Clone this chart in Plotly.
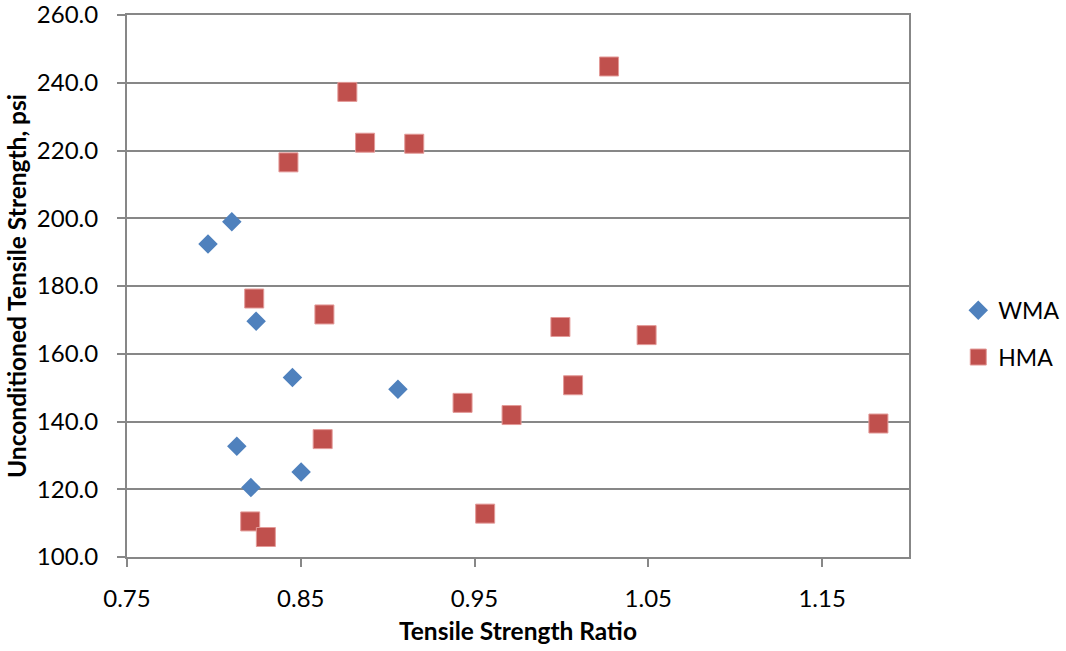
import plotly.graph_objects as go

# Tensile strength ratio (x) vs unconditioned tensile strength in psi (y)
wma_tsr = [0.7966, 0.8103, 0.8243, 0.8452, 0.8132, 0.8213, 0.8502, 0.9059]
wma_its = [192.4, 199.0, 169.6, 153.0, 132.7, 120.5, 125.1, 149.5]

hma_tsr = [0.8768, 0.8429, 0.8232, 0.8636, 0.8626, 0.8209, 0.8299, 1.0274, 0.9153,
           0.8870, 0.9994, 1.0490, 1.0067, 1.1824, 0.9431, 0.9713, 0.9561]
hma_its = [237.3, 216.5, 176.3, 171.6, 134.8, 110.5, 105.9, 244.8, 222.0,
           222.3, 167.9, 165.5, 150.7, 139.4, 145.5, 141.9, 112.8]

x_ticks = [0.75, 0.85, 0.95, 1.05, 1.15]
y_ticks = [100, 120, 140, 160, 180, 200, 220, 240, 260]

FONT = "Lato"
GRID = "#878787"

fig = go.Figure()
fig.add_trace(go.Scatter(
    x=wma_tsr, y=wma_its, mode="markers", name="WMA", legendgroup="wma",
    marker=dict(symbol="diamond", size=15, color="#4F81BD",
                line=dict(width=0)),
))
fig.add_trace(go.Scatter(
    x=hma_tsr, y=hma_its, mode="markers", name="HMA", legendgroup="hma",
    marker=dict(symbol="square", size=19, color="#C0504D",
                line=dict(width=1, color="#E39A98")),
))

fig.update_layout(
    template="none",
    width=1066, height=651,
    margin=dict(l=127, r=157, t=15, b=94, autoexpand=False),
    paper_bgcolor="white", plot_bgcolor="white",
    font=dict(family=FONT, size=24, color="black"),
    showlegend=True,
    legend=dict(x=1.063, y=0.412, xanchor="left", yanchor="middle",
                traceorder="grouped", tracegroupgap=14,
                font=dict(family=FONT, size=23, color="black"),
                bgcolor="rgba(0,0,0,0)", borderwidth=0),
    xaxis=dict(
        automargin=False,
        range=[0.75, 1.2], tickvals=x_ticks,
        ticktext=[f"{v:.2f}" for v in x_ticks],
        showgrid=False, zeroline=False,
        showline=True, linecolor=GRID, linewidth=2, mirror=True,
        ticks="outside", ticklen=8, tickwidth=2, tickcolor=GRID,
        ticklabelstandoff=11, ticklabeloverflow="allow",
        tickfont=dict(family=FONT, size=24, color="black"),
        title=dict(text="<b>Tensile Strength Ratio</b>", standoff=12,
                   font=dict(family=FONT, size=24.5, color="black")),
    ),
    yaxis=dict(
        automargin=False,
        range=[100, 260], tickvals=y_ticks,
        ticktext=[f"{v:.1f}" for v in y_ticks],
        showgrid=True, gridcolor=GRID, gridwidth=2, zeroline=False,
        showline=True, linecolor=GRID, linewidth=2, mirror=True,
        ticks="outside", ticklen=8, tickwidth=2, tickcolor=GRID,
        ticklabelstandoff=14, ticklabeloverflow="allow",
        tickfont=dict(family=FONT, size=24, color="black"),
    ),
    annotations=[dict(
        text="<b>Unconditioned Tensile Strength, psi</b>",
        xref="paper", yref="paper", x=-0.142, y=0.5,
        xanchor="center", yanchor="middle", textangle=-90, showarrow=False,
        font=dict(family=FONT, size=24.5, color="black"),
    )],
)

fig.write_html("out.html")
